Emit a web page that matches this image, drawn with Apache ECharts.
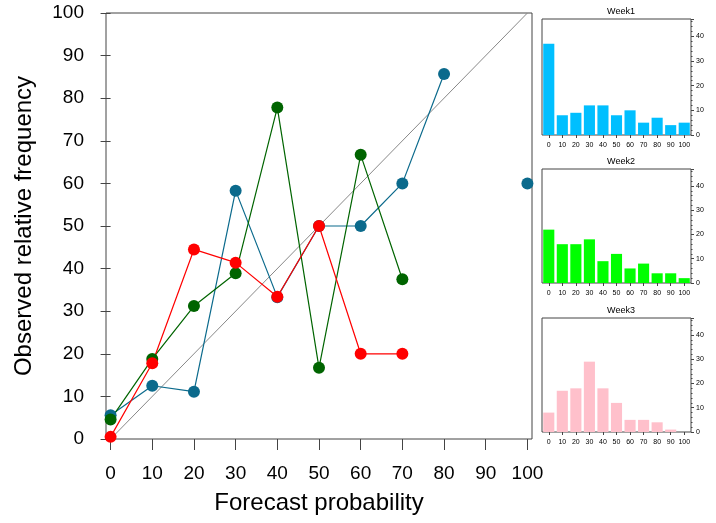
<!DOCTYPE html>
<html lang="en">
<head>
<meta charset="UTF-8">
<title>Reliability diagram</title>
<script src="https://cdn.jsdelivr.net/npm/echarts@6/dist/echarts.min.js"></script>
<style>
  html, body { margin: 0; padding: 0; background: #fff; }
  #main { width: 716px; height: 523px; }
</style>
</head>
<body>
<div id="main"></div>
<script>
// forecast probability bins (%)
var probs = [0, 10, 20, 30, 40, 50, 60, 70, 80, 90, 100];
var binLabels = ['0', '10', '20', '30', '40', '50', '60', '70', '80', '90', '100'];

// observed relative frequency per week (null = no forecasts in that bin)
var week1Obs = [5.6, 12.5, 11.1, 58.3, 33.3, 50, 50, 60, 85.7, null, 60];
var week2Obs = [4.6, 18.8, 31.2, 38.9, 77.8, 16.7, 66.7, 37.5, null, null, null];
var week3Obs = [0.5, 17.8, 44.5, 41.4, 33.4, 50, 20, 20, null, null, null];

// number of forecasts per bin (the small histograms)
var week1Count = [37, 8, 9, 12, 12, 8, 10, 5, 7, 4, 5];
var week2Count = [22, 16, 16, 18, 9, 12, 6, 8, 4, 4, 2];
var week3Count = [8, 17, 18, 29, 18, 12, 5, 5, 4, 1, 0];

var FONT = 'Liberation Sans';

function pairs(obs) {
    var out = [];
    for (var i = 0; i < probs.length; i++) {
        out.push([probs[i], obs[i] == null ? '-' : obs[i]]);
    }
    return out;
}

function relSeries(obs, color) {
    return {
        type: 'line',
        xAxisIndex: 0, yAxisIndex: 0,
        data: pairs(obs),
        symbol: 'circle',
        symbolSize: 12,
        lineStyle: { color: color, width: 1.2 },
        itemStyle: { color: color },
        clip: false
    };
}

// small histogram grids, top/height in px
var hist = [
    { name: 'Week1', top: 19, height: 116, data: week1Count, color: '#00BFFF' },
    { name: 'Week2', top: 169, height: 114, data: week2Count, color: '#00FF00' },
    { name: 'Week3', top: 318, height: 114, data: week3Count, color: '#FFC0CB' }
];

var grids = [{
    left: 106, top: 13, width: 426, height: 426,
    show: true, borderColor: '#444', borderWidth: 1
}];
var xAxes = [{
    type: 'value', gridIndex: 0, min: -1.1, max: 101.1,
    name: 'Forecast probability', nameLocation: 'middle', nameGap: 52,
    nameTextStyle: { fontSize: 24, color: '#000', fontFamily: FONT },
    axisLine: { show: false },
    axisTick: { show: true, length: 11, lineStyle: { color: '#444' }, customValues: probs },
    axisLabel: { fontSize: 19, color: '#000', fontFamily: FONT, margin: 25, customValues: probs },
    splitLine: { show: false }
}];
var yAxes = [{
    type: 'value', gridIndex: 0, min: 0, max: 100, interval: 10,
    name: 'Observed relative frequency', nameLocation: 'middle', nameGap: 70,
    nameTextStyle: { fontSize: 24, color: '#000', fontFamily: FONT },
    axisLine: { show: false },
    axisTick: { show: true, length: 10, lineStyle: { color: '#444' } },
    axisLabel: { fontSize: 19, color: '#000', fontFamily: FONT, margin: 22 },
    splitLine: { show: false }
}];
var titles = [];
var series = [
    {
        type: 'line', xAxisIndex: 0, yAxisIndex: 0,
        data: [[0, 0], [100, 100]],
        symbol: 'none', silent: true,
        lineStyle: { color: '#888', width: 1 }
    },
    relSeries(week1Obs, '#0b6a8c'),
    relSeries(week2Obs, '#006400'),
    relSeries(week3Obs, '#ff0000')
];

hist.forEach(function (h, i) {
    var g = i + 1;
    grids.push({
        left: 542, top: h.top, width: 149, height: h.height,
        show: true, borderColor: '#444', borderWidth: 1
    });
    xAxes.push({
        type: 'category', gridIndex: g, data: binLabels,
        axisLine: { show: false },
        axisTick: { show: true, alignWithLabel: true, length: 3, lineStyle: { color: '#444' } },
        axisLabel: { fontSize: 7, color: '#000', fontFamily: FONT, margin: 7, interval: 0 }
    });
    yAxes.push({
        type: 'value', gridIndex: g, position: 'right', min: 0, max: 47, interval: 10,
        axisLine: { show: false },
        axisTick: { show: true, length: 3, lineStyle: { color: '#444' } },
        minorTick: { show: true, splitNumber: 5, length: 1.5, lineStyle: { color: '#444' } },
        axisLabel: { fontSize: 7, color: '#000', fontFamily: FONT, margin: 5,
            showMaxLabel: false },
        splitLine: { show: false }
    });
    titles.push({
        text: h.name, left: 616, top: h.top - 17, textAlign: 'center',
        textStyle: { fontSize: 9, fontWeight: 'normal', color: '#000', fontFamily: FONT }
    });
    series.push({
        type: 'bar', xAxisIndex: g, yAxisIndex: g,
        data: h.data, barCategoryGap: '18%',
        itemStyle: { color: h.color }
    });
});

var chart = echarts.init(document.getElementById('main'));
chart.setOption({
    animation: false,
    backgroundColor: '#fff',
    title: titles,
    grid: grids,
    xAxis: xAxes,
    yAxis: yAxes,
    series: series
});
</script>
</body>
</html>
